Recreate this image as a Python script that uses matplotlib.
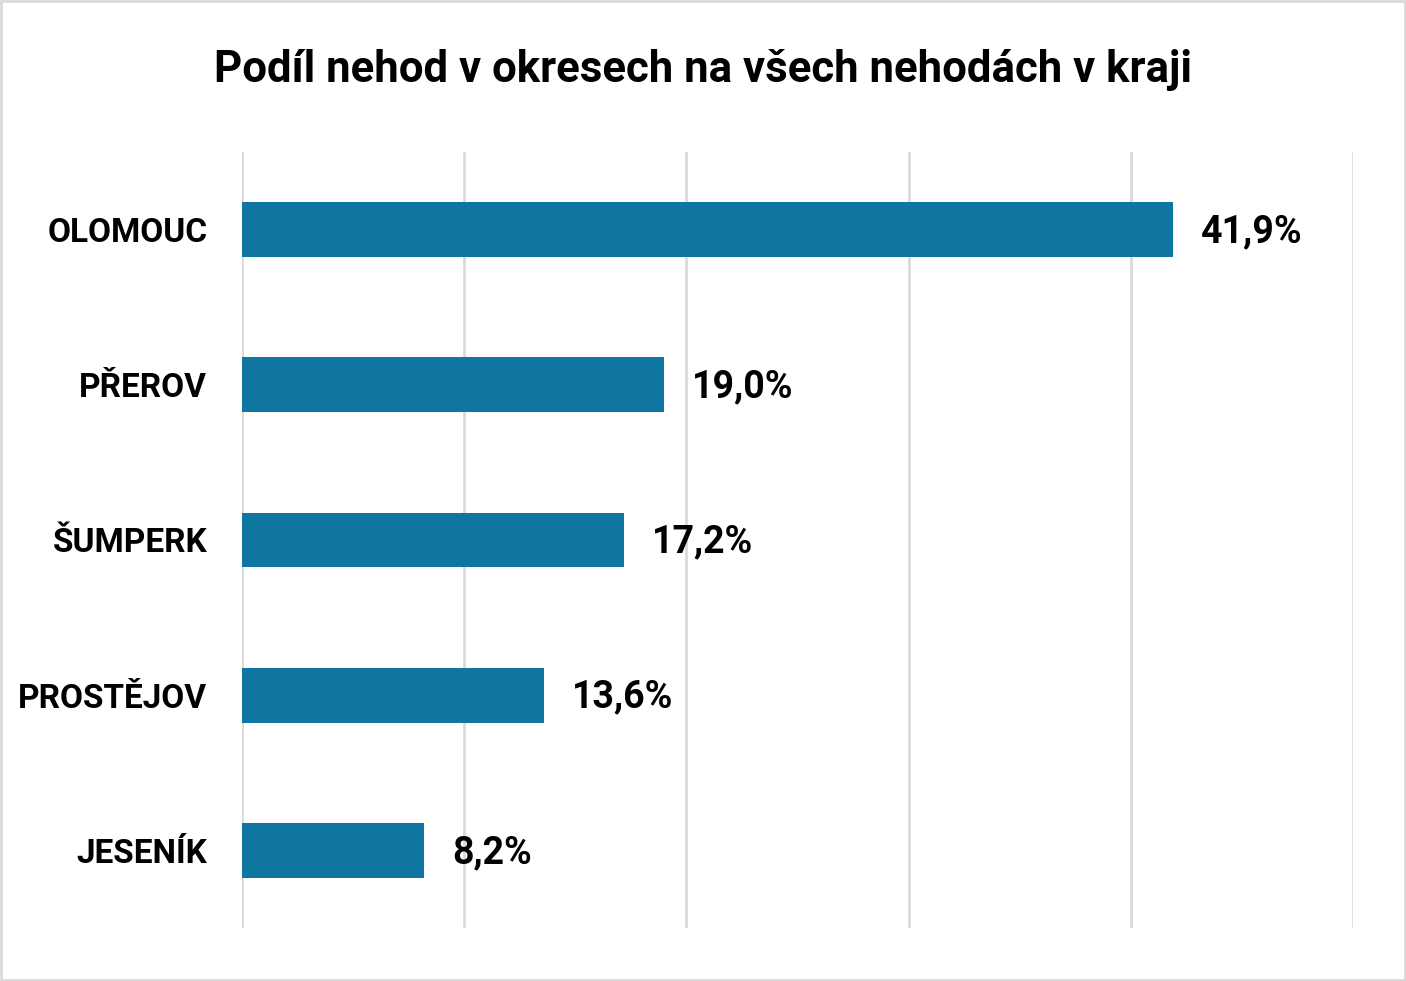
import matplotlib
matplotlib.use("Agg")
import matplotlib.pyplot as plt
from matplotlib.patches import Rectangle

districts = ["OLOMOUC", "PŘEROV", "ŠUMPERK", "PROSTĚJOV", "JESENÍK"]
shares = [41.9, 19.0, 17.2, 13.6, 8.2]
value_labels = ["41,9%", "19,0%", "17,2%", "13,6%", "8,2%"]
title = "Podíl nehod v okresech na všech nehodách v kraji"

plt.rcParams['font.family'] = ['Roboto', 'DejaVu Sans']

fig = plt.figure(figsize=(14.06, 9.81), dpi=100)
ax = fig.add_axes([242 / 1406, 1 - 928 / 981, (1353 - 242) / 1406, (928 - 152) / 981])

ypos = list(range(len(districts)))
ax.barh(ypos, shares, height=0.354, color="#0E76A0", zorder=3)
ax.set_xlim(0, 50)
ax.set_ylim(len(districts) - 0.5, -0.5)
ax.set_xticks([0, 10, 20, 30, 40, 50])
ax.set_xticklabels([])
ax.tick_params(axis='x', length=0)
ax.tick_params(axis='y', length=0, pad=25)
ax.set_yticks(ypos)
ax.set_yticklabels(districts, fontsize=24, fontweight='bold')
ax.grid(axis='x', color="#D9D9D9", linewidth=2, zorder=0)
for s in ax.spines.values():
    s.set_visible(False)

for y, v, lab in zip(ypos, shares, value_labels):
    ax.annotate(lab, (v, y), xytext=(28, -2), textcoords='offset pixels',
                ha='left', va='center', fontsize=27, fontweight='bold')

fig.text(0.5, 1 - 70 / 981, title, ha='center', va='center',
         fontsize=31.5, fontweight='bold')

fig.patches.append(Rectangle((0.001, 0.001), 0.998, 0.998, transform=fig.transFigure,
                             fill=False, edgecolor="#D9D9D9", linewidth=2))

fig.savefig("out.png", dpi=100)
